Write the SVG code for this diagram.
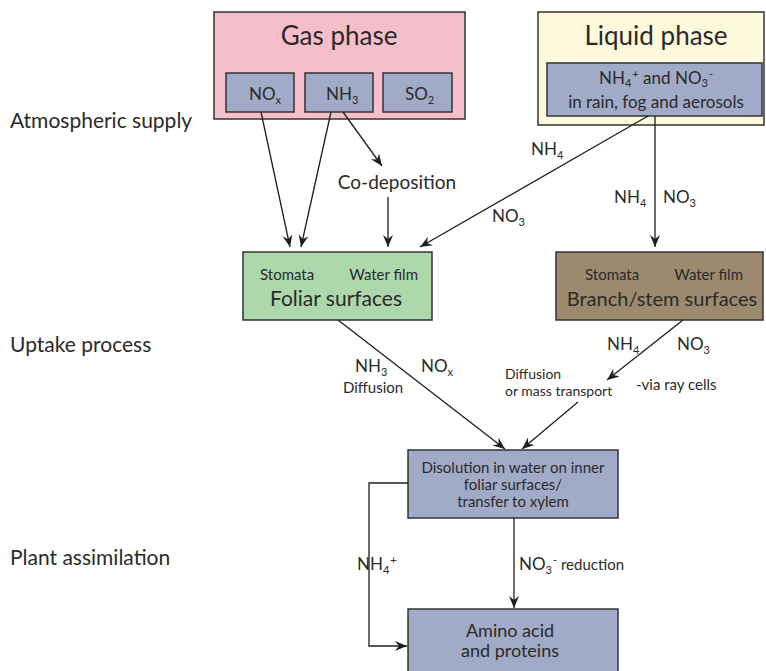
<svg xmlns="http://www.w3.org/2000/svg" width="766" height="671" viewBox="0 0 766 671">
<defs>
<style>
text{font-family:Lato,"Noto Sans",sans-serif;fill:#2a2a2a}
.box{stroke:#333;stroke-width:1.5}
.pink{fill:#f6bdcb}
.blue{fill:#a1aac7}
.cream{fill:#fdf9dd}
.green{fill:#acd8ac}
.brown{fill:#9c8a6e}
.big{font-size:26px}
.side{font-size:21px}
.lab{font-size:17px}
.sm{font-size:15px}
.mid{text-anchor:middle}
.sub{font-size:11px}
.c line,.c path{stroke:#1e1e1e;stroke-width:1.3;fill:none}
</style>
<marker id="ah" markerWidth="14" markerHeight="12" refX="12" refY="5" orient="auto" markerUnits="userSpaceOnUse">
<path d="M0,0 L12,5 L0,10 L4,5 z" fill="#1e1e1e"/>
</marker>
</defs>
<rect width="766" height="671" fill="#fff"/>

<g id="labels-left">
<text class="side" x="10" y="128">Atmospheric supply</text>
<text class="side" x="10" y="352">Uptake process</text>
<text class="side" x="10" y="565">Plant assimilation</text>
</g>

<g id="gas-phase">
<rect class="box pink" x="214" y="12" width="251" height="107"/>
<text class="big mid" x="339" y="45">Gas phase</text>
</g>
<g id="nox">
<rect class="box blue" x="226" y="73" width="68" height="39"/>
<text class="lab" x="249" y="100">NO<tspan class="sub" dy="4">x</tspan></text>
</g>
<g id="nh3">
<rect class="box blue" x="305" y="73" width="68" height="39"/>
<text class="lab" x="326" y="100">NH<tspan class="sub" dy="4">3</tspan></text>
</g>
<g id="so2">
<rect class="box blue" x="383" y="73" width="69" height="39"/>
<text class="lab" x="405" y="100">SO<tspan class="sub" dy="4">2</tspan></text>
</g>

<g id="liquid-phase">
<rect class="box cream" x="538" y="12" width="226" height="113"/>
<text class="big mid" x="656" y="45">Liquid phase</text>
</g>
<g id="rain">
<rect class="box blue" x="547" y="63" width="215" height="53"/>
<text class="lab mid" x="656" y="84">NH<tspan class="sub" dy="3">4</tspan><tspan class="sub" dx="1" dy="-9">+</tspan><tspan dy="6"> and NO</tspan><tspan class="sub" dy="3">3</tspan><tspan class="sub" dx="1" dy="-9">-</tspan></text>
<text class="lab mid" x="656" y="108">in rain, fog and aerosols</text>
</g>

<g id="foliar">
<rect class="box green" x="243" y="252" width="189" height="68"/>
<text class="sm" x="260" y="280">Stomata</text>
<text class="sm" x="418" y="280" text-anchor="end">Water film</text>
<text class="mid" style="font-size:21px" x="336" y="306">Foliar surfaces</text>
</g>

<g id="branch">
<rect class="box brown" x="556" y="252" width="207" height="68"/>
<text class="sm" x="585" y="280">Stomata</text>
<text class="sm" x="743" y="280" text-anchor="end">Water film</text>
<text class="mid" style="font-size:20px" x="662" y="306">Branch/stem surfaces</text>
</g>

<g id="codeposition">
<text class="mid" style="font-size:19px" x="397" y="189">Co-deposition</text>
</g>

<g id="disolution">
<rect class="box blue" x="408" y="450" width="210" height="68"/>
<text class="sm mid" x="513" y="473">Disolution in water on inner</text>
<text class="sm mid" x="513" y="490">foliar surfaces/</text>
<text class="sm mid" x="513" y="507">transfer to xylem</text>
</g>

<g id="amino">
<rect class="box blue" x="408" y="609" width="210" height="70"/>
<text class="mid" style="font-size:18px" x="510" y="637">Amino acid</text>
<text class="mid" style="font-size:18px" x="510" y="657">and proteins</text>
</g>

<g id="connectors" class="c">
<line x1="261" y1="112" x2="290" y2="247" marker-end="url(#ah)"/>
<line x1="331" y1="112" x2="301" y2="247" marker-end="url(#ah)"/>
<line x1="343" y1="112" x2="382" y2="166" marker-end="url(#ah)"/>
<line x1="388" y1="197" x2="388" y2="247" marker-end="url(#ah)"/>
<line x1="648" y1="116" x2="420" y2="247" marker-end="url(#ah)"/>
<line x1="655" y1="116" x2="655" y2="247" marker-end="url(#ah)"/>
<line x1="338" y1="320" x2="505" y2="449" marker-end="url(#ah)"/>
<line x1="683" y1="320" x2="607" y2="380" marker-end="url(#ah)"/>
<line x1="578" y1="402" x2="522" y2="449" marker-end="url(#ah)"/>
<line x1="514" y1="518" x2="514" y2="608" marker-end="url(#ah)"/>
<path d="M408,483 L369,483 L369,646 L407,646" marker-end="url(#ah)"/>
</g>

<g id="connector-labels">
<text class="lab" x="531" y="155">NH<tspan class="sub" dy="4">4</tspan></text>
<text class="lab" x="492" y="222">NO<tspan class="sub" dy="4">3</tspan></text>
<text class="lab" x="614" y="203">NH<tspan class="sub" dy="4">4</tspan></text>
<text class="lab" x="663" y="203">NO<tspan class="sub" dy="4">3</tspan></text>
<text class="lab" x="355" y="372">NH<tspan class="sub" dy="4">3</tspan></text>
<text class="sm" x="343" y="393">Diffusion</text>
<text class="lab" x="421" y="372">NO<tspan class="sub" dy="4">x</tspan></text>
<text class="lab" x="607" y="350">NH<tspan class="sub" dy="4">4</tspan></text>
<text class="lab" x="677" y="350">NO<tspan class="sub" dy="4">3</tspan></text>
<text style="font-size:14px" x="505" y="379">Diffusion</text>
<text style="font-size:14px" x="505" y="396">or mass transport</text>
<text class="sm" x="636" y="390">-via ray cells</text>
<text class="lab" x="519" y="570">NO<tspan class="sub" dy="4">3</tspan><tspan class="sub" dx="1" dy="-10">-</tspan><tspan class="sm" dy="6"> reduction</tspan></text>
<text class="lab" x="357" y="570">NH<tspan class="sub" dy="4">4</tspan><tspan class="sub" dx="1" dy="-10">+</tspan></text>
</g>
</svg>
